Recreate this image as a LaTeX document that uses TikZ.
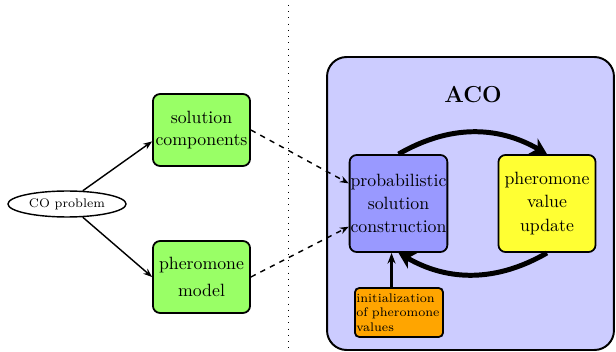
\documentclass[tikz,border=0pt]{standalone}
\usetikzlibrary{arrows.meta,shapes.geometric}
\definecolor{boxgreen}{HTML}{99FF66}
\definecolor{acobg}{HTML}{CCCCFF}
\definecolor{probblue}{HTML}{9999FF}
\definecolor{updyellow}{HTML}{FFFF33}
\definecolor{initorange}{HTML}{FFA500}
\begin{document}
\begin{tikzpicture}[x=0.5625pt,y=-0.5625pt,
  rbox/.style={draw,line width=1pt,rounded corners=4pt,align=center,inner sep=0.5pt,
    minimum width=54.6pt},
  thinarrow/.style={thick,-{Stealth[length=5pt]}},
  dasharrow/.style={thick,dashed,-{Stealth[length=5pt]}},
  loopbig/.style={line width=2.8pt,-{Stealth[length=9pt,width=10pt,inset=3pt]}}]
\useasboundingbox (0,0) rectangle (616,352);
\draw[dotted,dash pattern=on 0.5pt off 3pt] (288,5) -- (288,352);
\node[draw,line width=1.1pt,fill=acobg,rounded corners=11pt,minimum width=161.4pt,minimum height=164.8pt] (aco) at (470.5,203.5) {};
\node[font=\fontsize{13}{15}\selectfont\bfseries] (acol) at (473,95) {ACO};
\node[draw,thick,ellipse,minimum width=66.4pt,minimum height=14.6pt,inner sep=0pt,font=\scriptsize] (co) at (67,204) {CO problem};
\node[rbox,fill=boxgreen,minimum height=40.5pt] (sc) at (201.5,130) {solution\\components};
\node[rbox,fill=boxgreen,minimum height=40.5pt] (pm) at (201.5,277) {pheromone\\[3pt]model};
\node[rbox,fill=probblue,minimum height=54.6pt] (prob) at (398.5,203.5) {probabilistic\\[1pt]solution\\[1pt]construction};
\node[rbox,fill=updyellow,minimum height=54.6pt] (upd) at (547,203.5) {pheromone\\[1pt]value\\[1pt]update};
\node[draw,line width=1pt,fill=initorange,rounded corners=2.5pt,minimum width=49.5pt,minimum height=27.6pt,
  text width=48pt,align=left,inner sep=0.8pt,font=\fontsize{7}{8.2}\selectfont] (init) at (399,312.5)
  {initialization\\of pheromone\\values};
\draw[thinarrow] (co.40) -- (sc.193);
\draw[thinarrow] (co.-40) -- (pm.west);
\draw[dasharrow] (sc.east) -- (prob.158);
\draw[dasharrow] (pm.east) -- (prob.205);
\draw[loopbig] (prob.north) to[bend left=30] (upd.north);
\draw[loopbig] (upd.south) to[bend left=30] (prob.south);
\draw[line width=1.8pt,-{Stealth[length=6pt]}] (init.north -| prob.262) -- (prob.262);
\end{tikzpicture}
\end{document}
